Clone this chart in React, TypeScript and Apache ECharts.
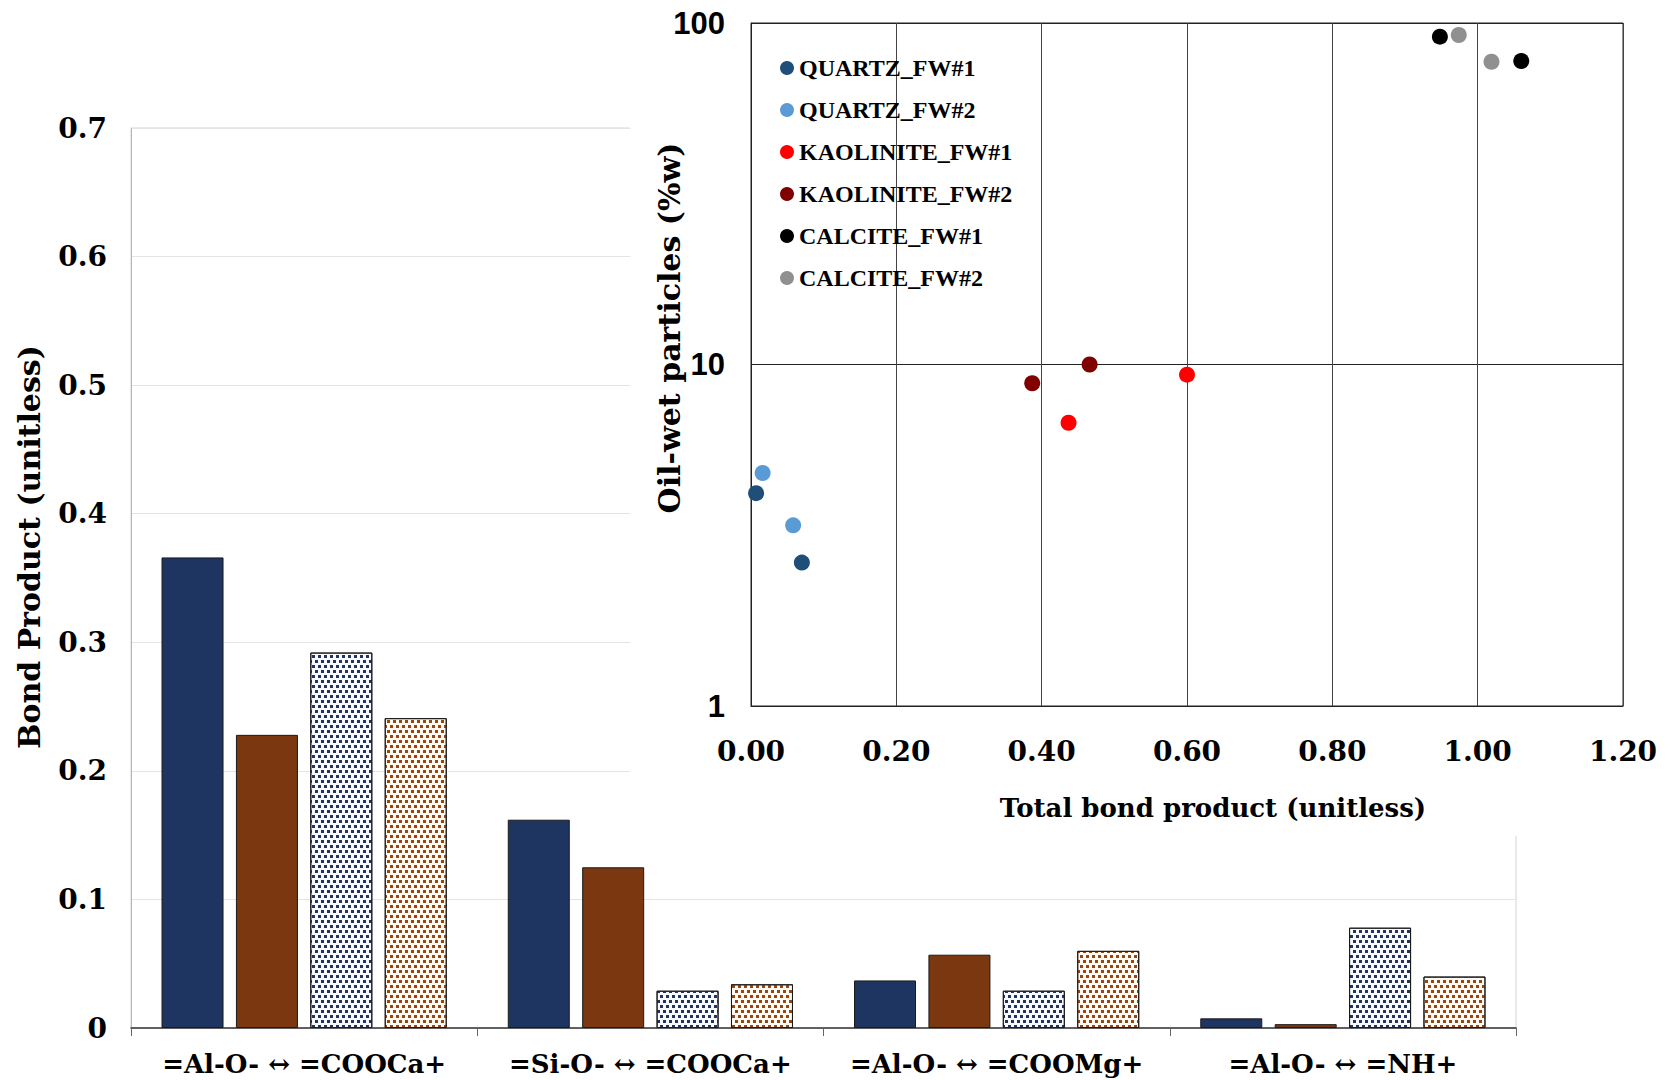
import React, { useEffect, useRef } from 'react';
import * as echarts from 'echarts';

// ---- Bar chart data ----
const categories = ['=Al-O- ↔ =COOCa+', '=Si-O- ↔ =COOCa+', '=Al-O- ↔ =COOMg+', '=Al-O- ↔ =NH+'];
const barNames = ['Set 1', 'Set 2', 'Set 3', 'Set 4'];
const barSolidNavy = [0.366, 0.162, 0.037, 0.0075];
const barSolidBrown = [0.228, 0.125, 0.057, 0.003];
const barDottedNavy = [0.292, 0.029, 0.029, 0.078];
const barDottedBrown = [0.241, 0.034, 0.06, 0.04];
const barYTicks = [0, 0.1, 0.2, 0.3, 0.4, 0.5, 0.6, 0.7];

// ---- Scatter data (x: total bond product, y: oil-wet particles %w) ----
const quartzFw1 = [[0.007, 4.2], [0.07, 2.63]];
const quartzFw2 = [[0.016, 4.81], [0.058, 3.38]];
const kaoliniteFw1 = [[0.437, 6.75], [0.6, 9.34]];
const kaoliniteFw2 = [[0.387, 8.81], [0.466, 10.0]];
const calciteFw1 = [[0.948, 91.2], [1.06, 77.4]];
const calciteFw2 = [[0.974, 92.2], [1.019, 77.0]];
const scatterNames = ['QUARTZ_FW#1', 'QUARTZ_FW#2', 'KAOLINITE_FW#1', 'KAOLINITE_FW#2', 'CALCITE_FW#1', 'CALCITE_FW#2'];

const NAVY = '#1f3561';
const BROWN = '#7b3710';

export default function App() {
  const barRef = useRef<HTMLDivElement>(null);
  const scRef = useRef<HTMLDivElement>(null);

  useEffect(() => {
    const bar = echarts.init(barRef.current!, undefined, { renderer: 'svg' });
    const sc = echarts.init(scRef.current!, undefined, { renderer: 'svg' });

    const dotDecal = (color: string) => ({
      symbol: 'rect',
      symbolSize: 1,
      color,
      dashArrayX: [[3, 2.6], [0, 2.8, 3, 0]],
      dashArrayY: [2.8, 1.6],
      rotation: 0,
    });

    const serif = 'DejaVu Serif';
    const barSeries = [
      { data: barSolidNavy, color: NAVY, decal: null },
      { data: barSolidBrown, color: BROWN, decal: null },
      { data: barDottedNavy, color: '#f7f9fc', decal: dotDecal('#22345c') },
      { data: barDottedBrown, color: '#fffaf4', decal: dotDecal('#984510') },
    ].map((s, i) => ({
      name: barNames[i],
      type: 'bar',
      data: s.data,
      barWidth: 62,
      barGap: '20%',
      itemStyle: {
        color: s.color,
        borderColor: '#1a1a1a',
        borderWidth: 1,
        ...(s.decal ? { decal: s.decal } : {}),
      },
    }));

    bar.setOption({
      animation: false,
      backgroundColor: '#ffffff',
      grid: { left: 131, right: 158, top: 128, bottom: 52, show: true, borderColor: '#d4d4d4', borderWidth: 1 },
      xAxis: {
        type: 'category',
        data: categories,
        axisLine: { lineStyle: { color: '#333', width: 1.5 } },
        axisTick: { show: true, interval: 0, length: 8, lineStyle: { color: '#666' } },
        axisLabel: { interval: 0, fontFamily: serif, fontWeight: 'bold', fontSize: 26, color: '#000', margin: 23 },
      },
      yAxis: {
        type: 'value',
        min: barYTicks[0],
        max: barYTicks[barYTicks.length - 1],
        interval: 0.1,
        axisLine: { show: true, lineStyle: { color: '#aaaaaa', type: 'dotted' } },
        axisTick: { show: false },
        splitLine: { lineStyle: { color: '#e4e4e4' } },
        axisLabel: {
          formatter: (v: number) => (v === 0 ? '0' : v.toFixed(1)),
          fontFamily: serif,
          fontWeight: 'bold',
          fontSize: 28,
          color: '#000',
          margin: 24,
        },
      },
      graphic: [
        {
          type: 'text',
          x: 29,
          y: 547,
          rotation: Math.PI / 2,
          style: {
            text: 'Bond Product (unitless)',
            font: 'bold 30px "DejaVu Serif"',
            fill: '#000',
            textAlign: 'center',
            textVerticalAlign: 'middle',
          },
        },
      ],
      series: barSeries,
    });

    const scData = [quartzFw1, quartzFw2, kaoliniteFw1, kaoliniteFw2, calciteFw1, calciteFw2];
    const scColors = ['#1f4e79', '#5b9bd5', '#ff0000', '#800000', '#000000', '#909090'];

    sc.setOption({
      animation: false,
      backgroundColor: '#ffffff',
      grid: { left: 121, right: 51, top: 23, bottom: 130, show: true, borderColor: '#222', borderWidth: 1 },
      legend: {
        orient: 'vertical',
        left: 145,
        top: 51,
        icon: 'circle',
        itemWidth: 14,
        itemHeight: 14,
        itemGap: 18,
        data: scatterNames,
        textStyle: { fontFamily: 'Liberation Serif', fontWeight: 'bold', fontSize: 24, lineHeight: 24, color: '#000' },
      },
      xAxis: {
        type: 'value',
        min: 0,
        max: 1.2,
        interval: 0.2,
        axisLine: { lineStyle: { color: '#222' } },
        axisTick: { show: false },
        splitLine: { lineStyle: { color: '#444', width: 1 } },
        axisLabel: {
          formatter: (v: number) => v.toFixed(2),
          fontFamily: serif,
          fontWeight: 'bold',
          fontSize: 28,
          color: '#000',
          margin: 31,
        },
      },
      yAxis: {
        type: 'log',
        logBase: 10,
        min: 1,
        max: 100,
        axisLine: { lineStyle: { color: '#222' } },
        axisTick: { show: false },
        splitLine: { lineStyle: { color: '#222', width: 1 } },
        axisLabel: {
          fontFamily: 'Liberation Sans',
          fontWeight: 'bold',
          fontSize: 31,
          color: '#000',
          margin: 26,
        },
      },
      graphic: [
        {
          type: 'text',
          x: 583,
          y: 808,
          style: {
            text: 'Total bond product (unitless)',
            font: 'bold 26px "DejaVu Serif"',
            fill: '#000',
            textAlign: 'center',
            textVerticalAlign: 'middle',
          },
        },
        {
          type: 'text',
          x: 39,
          y: 328,
          rotation: Math.PI / 2,
          style: {
            text: 'Oil-wet particles (%w)',
            font: 'bold 30px "DejaVu Serif"',
            fill: '#000',
            textAlign: 'center',
            textVerticalAlign: 'middle',
          },
        },
      ],
      series: scData.map((d, i) => ({
        name: scatterNames[i],
        type: 'scatter',
        data: d,
        symbol: 'circle',
        symbolSize: 16,
        itemStyle: { color: scColors[i], opacity: 1 },
      })),
    });

    return () => {
      bar.dispose();
      sc.dispose();
    };
  }, []);

  return (
    <div style={{ position: 'fixed', left: 0, top: 0, width: 1674, height: 1080, background: '#fff' }}>
      <div ref={barRef} style={{ position: 'absolute', left: 0, top: 0, width: 1674, height: 1080 }} />
      <div ref={scRef} style={{ position: 'absolute', left: 630, top: 0, width: 1044, height: 836, background: '#fff' }} />
    </div>
  );
}
